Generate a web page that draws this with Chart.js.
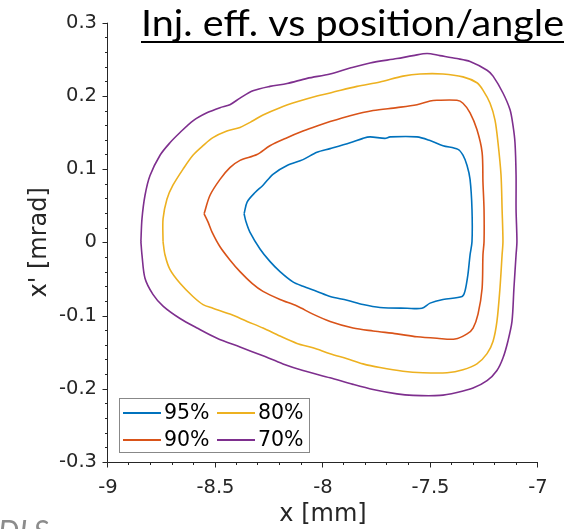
<!DOCTYPE html>
<html><head><meta charset="utf-8">
<script src="https://cdn.jsdelivr.net/npm/chart.js@4.4.0/dist/chart.umd.min.js"></script>
<style>html,body{margin:0;padding:0;background:#fff;overflow:hidden}#wrap{width:571px;height:529px;position:relative}</style>
</head><body><div id="wrap"><canvas id="c" width="571" height="529"></canvas></div>
<script>
const chartTitle = 'Inj. eff. vs position/angle';
const watermark = 'DLS';
const xAxisTitle = 'x [mm]';
const yAxisTitle = "x' [mrad]";
const seriesLabels = ['95%', '90%', '80%', '70%'];
const seriesColors = ['#0072BD', '#D95319', '#EDB120', '#7E2F8E'];
const xTickValues = [-9, -8.5, -8, -7.5, -7];
const xTickLabels = ['-9', '-8.5', '-8', '-7.5', '-7'];
const yTickValues = [-0.3, -0.2, -0.1, 0, 0.1, 0.2, 0.3];
const yTickLabels = ['-0.3', '-0.2', '-0.1', '0', '0.1', '0.2', '0.3'];

const x95 = [-8.367,-8.353,-8.316,-8.279,-8.233,-8.167,-8.093,-8.028,-7.967,-7.874,-7.814,-7.781,-7.712,-7.688,-7.563,-7.502,-7.442,-7.372,-7.349,-7.330,-7.316,-7.307,-7.307,-7.316,-7.326,-7.340,-7.353,-7.442,-7.502,-7.540,-7.609,-7.735,-7.814,-7.888,-7.967,-8.028,-8.093,-8.140,-8.200,-8.247,-8.293,-8.340,-8.358,-8.367];
const y95 = [0.039,0.055,0.068,0.078,0.093,0.105,0.113,0.123,0.128,0.136,0.142,0.144,0.142,0.144,0.144,0.139,0.132,0.127,0.119,0.105,0.086,0.045,0.001,-0.017,-0.044,-0.067,-0.074,-0.078,-0.083,-0.090,-0.090,-0.089,-0.085,-0.079,-0.074,-0.067,-0.060,-0.054,-0.040,-0.026,-0.009,0.014,0.028,0.039];

const x90 = [-8.553,-8.526,-8.479,-8.433,-8.386,-8.307,-8.247,-8.167,-8.093,-8.028,-7.967,-7.874,-7.767,-7.656,-7.563,-7.502,-7.470,-7.377,-7.349,-7.316,-7.284,-7.260,-7.256,-7.251,-7.251,-7.256,-7.260,-7.279,-7.302,-7.330,-7.386,-7.470,-7.563,-7.656,-7.767,-7.860,-7.967,-8.047,-8.121,-8.200,-8.279,-8.330,-8.386,-8.433,-8.479,-8.516,-8.535,-8.553];
const y90 = [0.039,0.064,0.086,0.102,0.112,0.120,0.132,0.143,0.152,0.159,0.165,0.173,0.180,0.184,0.188,0.193,0.194,0.194,0.190,0.177,0.154,0.123,0.082,0.045,0.001,-0.017,-0.063,-0.098,-0.117,-0.125,-0.132,-0.131,-0.129,-0.125,-0.121,-0.117,-0.108,-0.098,-0.087,-0.078,-0.067,-0.056,-0.040,-0.024,-0.006,0.014,0.028,0.039];

const x80 = [-8.744,-8.744,-8.726,-8.698,-8.651,-8.605,-8.558,-8.512,-8.447,-8.386,-8.326,-8.279,-8.200,-8.121,-8.028,-7.967,-7.842,-7.735,-7.628,-7.549,-7.442,-7.349,-7.284,-7.256,-7.223,-7.200,-7.186,-7.172,-7.167,-7.163,-7.167,-7.177,-7.191,-7.209,-7.237,-7.284,-7.349,-7.423,-7.535,-7.628,-7.735,-7.814,-7.888,-7.967,-8.047,-8.121,-8.200,-8.279,-8.353,-8.433,-8.512,-8.558,-8.605,-8.665,-8.712,-8.735,-8.744];
const y80 = [0.001,0.032,0.059,0.078,0.100,0.119,0.132,0.143,0.152,0.157,0.166,0.174,0.184,0.192,0.200,0.204,0.213,0.219,0.227,0.230,0.230,0.226,0.218,0.208,0.190,0.167,0.136,0.092,0.045,0.001,-0.017,-0.063,-0.108,-0.135,-0.152,-0.166,-0.174,-0.178,-0.178,-0.176,-0.171,-0.166,-0.159,-0.152,-0.144,-0.138,-0.128,-0.117,-0.108,-0.098,-0.090,-0.085,-0.074,-0.056,-0.037,-0.017,0.001];

const x70 = [-8.847,-8.842,-8.828,-8.805,-8.758,-8.712,-8.665,-8.605,-8.540,-8.479,-8.433,-8.386,-8.326,-8.247,-8.167,-8.074,-7.967,-7.874,-7.781,-7.656,-7.581,-7.516,-7.456,-7.377,-7.316,-7.237,-7.209,-7.163,-7.130,-7.116,-7.107,-7.102,-7.102,-7.098,-7.102,-7.112,-7.121,-7.140,-7.163,-7.191,-7.237,-7.302,-7.377,-7.456,-7.581,-7.656,-7.767,-7.860,-7.967,-8.093,-8.186,-8.279,-8.386,-8.493,-8.586,-8.665,-8.744,-8.791,-8.828,-8.842,-8.847];
const y70 = [0.001,0.032,0.064,0.091,0.119,0.136,0.150,0.166,0.177,0.184,0.188,0.197,0.207,0.213,0.217,0.224,0.230,0.238,0.245,0.251,0.255,0.258,0.255,0.251,0.247,0.235,0.227,0.204,0.181,0.159,0.136,0.091,0.045,0.001,-0.017,-0.063,-0.108,-0.135,-0.158,-0.175,-0.189,-0.199,-0.205,-0.209,-0.209,-0.207,-0.201,-0.194,-0.185,-0.175,-0.166,-0.155,-0.143,-0.131,-0.117,-0.104,-0.087,-0.071,-0.049,-0.017,0.001];

const seriesX = [x95, x90, x80, x70];
const seriesY = [y95, y90, y80, y70];

const datasets = seriesLabels.map((lab, i) => ({
  label: lab,
  data: seriesX[i].map((x, j) => ({x: x, y: seriesY[i][j]})),
  borderColor: seriesColors[i],
  backgroundColor: seriesColors[i],
  borderWidth: 1.6,
  showLine: true,
  pointRadius: 0,
  tension: 0.3,
  fill: false
}));

const AX = '#262626';
const decor = {
  id: 'decor',
  afterDraw(chart) {
    const ctx = chart.ctx;
    const a = chart.chartArea;
    const xs = chart.scales.x, ys = chart.scales.y;
    ctx.save();
    ctx.strokeStyle = AX;
    ctx.lineWidth = 1;
    ctx.beginPath();
    ctx.moveTo(a.left - 0.5, a.top);
    ctx.lineTo(a.left - 0.5, a.bottom + 0.5);
    ctx.lineTo(a.right, a.bottom + 0.5);
    ctx.stroke();
    ctx.beginPath();
    for (let k = 0; k <= 20; k++) {
      const v = -9 + k * 0.1;
      const px = Math.round(xs.getPixelForValue(v)) - 0.5;
      const len = (k % 5 === 0) ? 5 : 2.5;
      ctx.moveTo(px, a.bottom + 0.5);
      ctx.lineTo(px, a.bottom + 0.5 + len);
    }
    for (let k = 0; k <= 30; k++) {
      const v = -0.3 + k * 0.02;
      const py = Math.round(ys.getPixelForValue(v)) + 0.5;
      const len = (k % 5 === 0) ? 5 : 2.5;
      ctx.moveTo(a.left - 0.5, py);
      ctx.lineTo(a.left - 0.5 - len, py);
    }
    ctx.stroke();

    const lx = 119.5, ly = 398.5, lw = 190, lh = 54;
    ctx.fillStyle = '#fff';
    ctx.fillRect(lx, ly, lw, lh);
    ctx.strokeStyle = '#888';
    ctx.strokeRect(lx, ly, lw, lh);
    const cols = [[0, 1], [2, 3]];
    const colX = [123, 217];
    const rowY = [413, 440];
    ctx.font = '20.5px "DejaVu Sans"';
    ctx.textBaseline = 'middle';
    ctx.textAlign = 'left';
    cols.forEach((col, ci) => {
      col.forEach((di, ri) => {
        const ds = chart.data.datasets[di];
        ctx.strokeStyle = ds.borderColor;
        ctx.lineWidth = 2.2;
        ctx.beginPath();
        ctx.moveTo(colX[ci], rowY[ri]);
        ctx.lineTo(colX[ci] + 38, rowY[ri]);
        ctx.stroke();
        ctx.fillStyle = '#000';
        ctx.fillText(ds.label, colX[ci] + 41, rowY[ri] + 1);
      });
    });

    ctx.font = '36px Lato';
    ctx.fillStyle = '#000';
    ctx.textBaseline = 'alphabetic';
    const tw = ctx.measureText(chartTitle).width;
    const tLeft = 141, tWidth = 423;
    ctx.save();
    ctx.translate(tLeft, 36);
    ctx.scale(tWidth / tw, 1);
    ctx.fillText(chartTitle, 0, 0);
    ctx.restore();
    ctx.fillRect(tLeft, 41, tWidth, 2);

    ctx.font = 'italic 30px Lato';
    ctx.fillStyle = '#8c8c8c';
    ctx.fillText(watermark, -2, 542);
    ctx.restore();
  }
};

new Chart(document.getElementById('c'), {
  type: 'scatter',
  data: { datasets: datasets },
  options: {
    responsive: false,
    animation: false,
    devicePixelRatio: 1,
    layout: { padding: { left: 0, right: 33, top: 19, bottom: 0 } },
    plugins: { legend: { display: false }, title: { display: false }, tooltip: { enabled: false } },
    scales: {
      x: {
        type: 'linear', min: -9, max: -7,
        grid: { display: false, drawTicks: false },
        border: { display: false },
        afterBuildTicks: (s) => { s.ticks = xTickValues.map(v => ({ value: v })); },
        afterFit: (s) => { s.height = 67; },
        ticks: {
          padding: 14, color: AX, maxRotation: 0, autoSkip: false,
          font: { family: 'DejaVu Sans', size: 19.5 },
          callback: (v) => { const i = xTickValues.findIndex(t => Math.abs(t - v) < 1e-9); return i >= 0 ? xTickLabels[i] : ''; }
        },
        title: { display: true, text: xAxisTitle, color: AX, font: { family: 'DejaVu Sans', size: 24 }, padding: { top: 0, bottom: 0 } }
      },
      y: {
        type: 'linear', min: -0.3, max: 0.3,
        grid: { display: false, drawTicks: false },
        border: { display: false },
        afterBuildTicks: (s) => { s.ticks = yTickValues.map(v => ({ value: v })); },
        afterFit: (s) => { s.width = 108; },
        ticks: {
          padding: 11, color: AX, autoSkip: false,
          font: { family: 'DejaVu Sans', size: 19.5 },
          callback: (v) => { const i = yTickValues.findIndex(t => Math.abs(t - v) < 1e-9); return i >= 0 ? yTickLabels[i] : ''; }
        },
        title: { display: true, text: yAxisTitle, color: AX, font: { family: 'DejaVu Sans', size: 24 }, padding: { top: 25, bottom: 0 } }
      }
    }
  },
  plugins: [decor]
});
</script>
</body></html>
